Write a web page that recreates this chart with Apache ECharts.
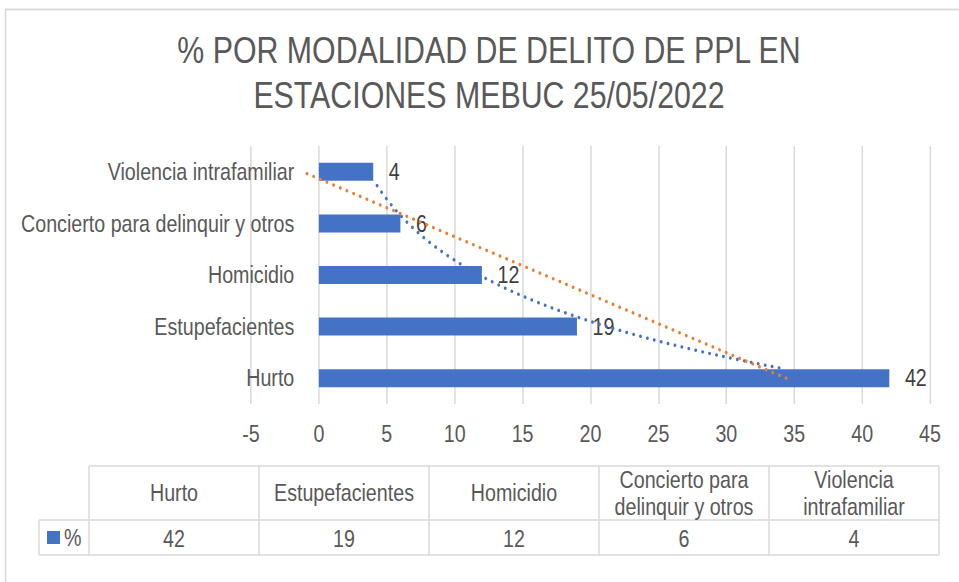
<!DOCTYPE html>
<html>
<head>
<meta charset="utf-8">
<script src="https://cdn.jsdelivr.net/npm/echarts@6/dist/echarts.min.js"></script>
<style>
html, body { margin: 0; padding: 0; background: #fff; overflow: hidden; width: 959px; height: 582px; }
/* Excel usa Arial Narrow: se dibuja con Arial (Liberation Sans) y se comprime en horizontal */
#chart { width: 1170px; height: 582px; transform: scaleX(0.8197); transform-origin: 0 0; }
</style>
</head>
<body>
<div id="chart"></div>
<script>
const categories = ['Hurto', 'Estupefacientes', 'Homicidio', 'Concierto para delinquir y otros', 'Violencia intrafamiliar'];
const values = [42, 19, 12, 6, 4];
const tableHeaders = ['Hurto', 'Estupefacientes', 'Homicidio', 'Concierto para\ndelinquir y otros', 'Violencia\nintrafamiliar'];
const xMin = -5, xMax = 45, xStep = 5;
const seriesName = '%';
const titleText = '% POR MODALIDAD DE DELITO DE PPL EN\nESTACIONES MEBUC 25/05/2022';

const S = 0.8197; // compresion horizontal
const FONT = "'Liberation Sans', Arial, sans-serif";
const TXT = '#595959';
const GRID = '#d9d9d9';
const BLUE = '#4472C4';
const ORANGE = '#ED7D31';

// lineas de tendencia estilo excel: minimos cuadrados con x = 1..n (lineal y exponencial)
const n = values.length;
function fit(ys) {
    let mx = 0, my = 0;
    ys.forEach((y, i) => { mx += (i + 1) / n; my += y / n; });
    let sxy = 0, sxx = 0;
    ys.forEach((y, i) => { sxy += (i + 1 - mx) * (y - my); sxx += (i + 1 - mx) * (i + 1 - mx); });
    const b = sxy / sxx;
    return { a: my - b * mx, b: b };
}
const lin = fit(values);
const expo = fit(values.map(Math.log));
const linTrend = [0, n - 1].map(i => [lin.a + lin.b * (i + 1), i]);
const expTrend = [];
for (let t = 0.2; t <= n - 1.2 + 1e-9; t += 0.05) {
    expTrend.push([Math.exp(expo.a + expo.b * (t + 1)), t]);
}

// tabla de datos bajo el grafico
const tbl = { legendLeft: 39 / S, left: 89 / S, colW: 170 / S, top: 466, mid: 520, bottom: 555 };
const tableRight = tbl.left + tbl.colW * categories.length;
const tableEls = [];
function hline(x1, x2, y) {
    tableEls.push({ type: 'line', shape: { x1: x1, y1: y, x2: x2, y2: y }, style: { stroke: GRID, lineWidth: 1.5 } });
}
function vline(x, y1, y2) {
    tableEls.push({ type: 'line', shape: { x1: x, y1: y1, x2: x, y2: y2 }, style: { stroke: GRID, lineWidth: 1.8 } });
}
hline(tbl.left, tableRight, tbl.top);
hline(tbl.legendLeft, tableRight, tbl.mid);
hline(tbl.legendLeft, tableRight, tbl.bottom);
vline(tbl.legendLeft, tbl.mid, tbl.bottom);
for (let k = 0; k <= categories.length; k++) vline(tbl.left + k * tbl.colW, tbl.top, tbl.bottom);
tableHeaders.forEach((h, k) => {
    const cx = tbl.left + k * tbl.colW + tbl.colW / 2;
    tableEls.push({ type: 'text', style: { x: cx, y: (tbl.top + tbl.mid) / 2, text: h, textAlign: 'center', textVerticalAlign: 'middle', font: '24px ' + FONT, lineHeight: 27, fill: TXT } });
    tableEls.push({ type: 'text', style: { x: cx, y: (tbl.mid + tbl.bottom) / 2 + 1, text: String(values[k]), textAlign: 'center', textVerticalAlign: 'middle', font: '24px ' + FONT, fill: TXT } });
});
tableEls.push({ type: 'rect', shape: { x: 47 / S, y: 531, width: 13 / S, height: 13 }, style: { fill: BLUE } });
tableEls.push({ type: 'text', style: { x: 64 / S, y: 538, text: seriesName, textVerticalAlign: 'middle', font: '24px ' + FONT, fill: TXT } });

// area de trazado
const gridLeft = 251 / S, gridRight = 29 / S;
const plotW = 959 / S - gridLeft - gridRight;
// el eje de categorias cruza en x = 0
const zeroOffset = -(0 - xMin) / (xMax - xMin) * plotW;

const myChart = echarts.init(document.getElementById('chart'), null, { renderer: 'svg' });
const option = {
    backgroundColor: '#fff',
    animation: false,
    graphic: [
        { type: 'rect', silent: true, shape: { x: 5.5 / S, y: 9.5, width: 1400, height: 1000 }, style: { fill: 'none', stroke: GRID, lineWidth: 1.8 } },
        { type: 'text', silent: true, style: { x: 489 / S, y: 27, text: titleText, textAlign: 'center', font: '37px ' + FONT, lineHeight: 45, fill: TXT } },
        { type: 'group', silent: true, children: tableEls }
    ],
    grid: { left: gridLeft, right: gridRight, top: 146, bottom: 178, containLabel: false, outerBoundsMode: 'none' },
    xAxis: {
        type: 'value',
        min: xMin,
        max: xMax,
        interval: xStep,
        axisLine: { show: false, onZero: false },
        axisTick: { show: false },
        axisLabel: { color: TXT, fontFamily: FONT, fontSize: 24, margin: 18 },
        splitLine: { lineStyle: { color: GRID, width: 1.8 } }
    },
    yAxis: [{
        type: 'category',
        data: categories,
        offset: zeroOffset,
        axisLine: { show: false, onZero: false },
        axisTick: { show: false },
        axisLabel: { color: TXT, fontFamily: FONT, fontSize: 24, margin: 30 }
    }, {
        type: 'value',
        show: false,
        min: -0.5,
        max: n - 0.5,
        axisLine: { onZero: false },
        splitLine: { show: false }
    }],
    series: [{//barras
        name: seriesName,
        type: 'bar',
        data: values,
        barWidth: 18,
        silent: true,
        itemStyle: { color: BLUE },
        label: { show: true, position: 'right', distance: 19, color: '#404040', fontFamily: FONT, fontSize: 24 }
    }, {//tendencia exponencial
        type: 'line',
        yAxisIndex: 1,
        data: expTrend,
        symbol: 'none',
        silent: true,
        z: 5,
        lineStyle: { color: BLUE, width: 3.4, type: [0.1, 8.5], cap: 'round' }
    }, {//tendencia lineal
        type: 'line',
        yAxisIndex: 1,
        data: linTrend,
        symbol: 'none',
        silent: true,
        z: 6,
        lineStyle: { color: ORANGE, width: 3.4, type: [0.1, 8.5], cap: 'round' }
    }]
};
myChart.setOption(option);
</script>
</body>
</html>
